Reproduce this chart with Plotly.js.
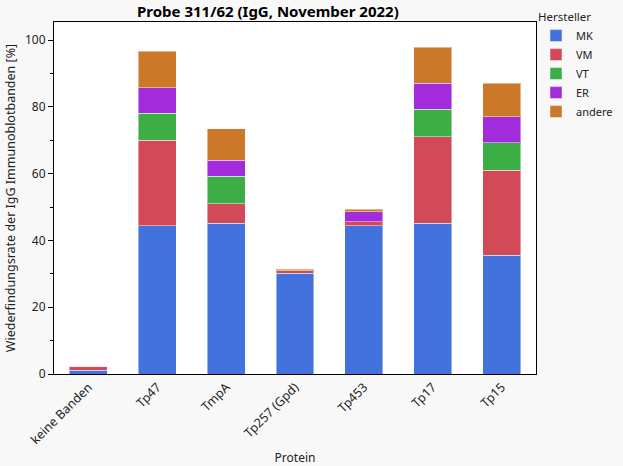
<!DOCTYPE html>
<html>
<head>
<meta charset="utf-8">
<script src="https://cdn.plot.ly/plotly-3.0.1.min.js"></script>
<style>
  body { margin: 0; background: #f8f8f8; }
  #plot { width: 623px; height: 466px; }
</style>
</head>
<body>
<div id="plot"></div>
<script>
// categories and shares per manufacturer (%)
var proteins = ['keine Banden', 'Tp47', 'TmpA', 'Tp257 (Gpd)', 'Tp453', 'Tp17', 'Tp15'];
var mk     = [1.1, 44.4, 45.1, 30.1, 44.4, 45.1, 35.5];
var vm     = [1.2, 25.6,  5.9,  0.8,  1.2, 26.0, 25.5];
var vt     = [0,    8.1,  8.2,  0,    0,    8.2,  8.3];
var er     = [0,    7.6,  4.8,  0,    3.0,  7.7,  7.7];
var andere = [0,   10.9,  9.5,  0.5,  0.8, 10.8, 10.0];
var yTicks = [0, 20, 40, 60, 80, 100];

var font = 'Noto Sans, Open Sans, sans-serif';

function bar_trace(name, values, color) {
   return {
      type: 'bar',
      name: name,
      x: proteins,
      y: values,
      width: 0.55,
      marker: {
         color: color,
         line: {width: 1, color: 'rgba(255,255,255,0.45)'}
      },
      hoverinfo: 'x+y+name'
   };
}

var traces = [
   bar_trace('MK', mk, '#4372dc'),
   bar_trace('VM', vm, '#d24a58'),
   bar_trace('VT', vt, '#3dae46'),
   bar_trace('ER', er, '#a22bdc'),
   bar_trace('andere', andere, '#cc7829')
];

var layout = {
   width: 623,
   height: 466,
   barmode: 'stack',
   paper_bgcolor: '#f8f8f8',
   plot_bgcolor: '#ffffff',
   margin: {l: 54, r: 87, t: 22, b: 92, autoexpand: false},
   font: {family: font, size: 12, color: '#222'},
   title: {
      text: '<b>Probe 311/62 (IgG, November 2022)</b>',
      font: {family: font, size: 15, color: '#000'},
      x: 0.43,
      xanchor: 'center',
      y: 0.975,
      yanchor: 'middle'
   },
   xaxis: {
      title: {text: 'Protein', font: {size: 12}, standoff: 8},
      tickangle: -45,
      tickfont: {size: 12.5, color: '#222'},
      showline: true,
      linecolor: '#000',
      linewidth: 1,
      mirror: true,
      ticks: '',
      showgrid: false,
      zeroline: false
   },
   yaxis: {
      title: {text: 'Wiederfindungsrate der IgG Immunoblotbanden [%]', font: {size: 12.5}, standoff: 6},
      range: [0, 105.4],
      tickvals: yTicks,
      ticktext: yTicks.map(String),
      ticks: 'outside',
      ticklen: 5,
      tickcolor: '#000',
      minor: {dtick: 10, ticks: 'outside', ticklen: 3, tickcolor: '#000', showgrid: false},
      tickfont: {size: 12, color: '#222'},
      showline: true,
      linecolor: '#000',
      linewidth: 1,
      mirror: true,
      showgrid: false,
      zeroline: false
   },
   legend: {
      title: {text: 'Hersteller', font: {size: 11.5}},
      x: 1.0,
      xanchor: 'left',
      y: 1.045,
      yanchor: 'top',
      bgcolor: 'rgba(0,0,0,0)',
      font: {size: 11},
      tracegroupgap: 0,
      itemwidth: 30,
      traceorder: 'normal'
   },
   showlegend: true
};

Plotly.newPlot('plot', traces, layout, {displayModeBar: false, staticPlot: true});
</script>
</body>
</html>
